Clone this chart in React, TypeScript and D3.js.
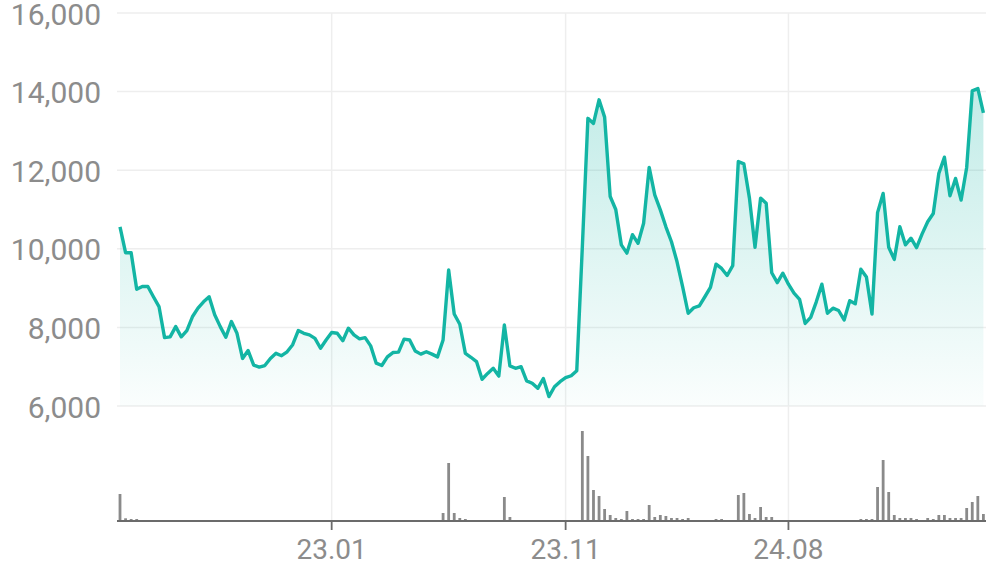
import React from "react";
import * as d3 from "d3";

const prices: number[] = [
  10560, 9900, 9900, 8970, 9040, 9040, 8780, 8530, 7740, 7760,
  8020, 7760, 7920, 8270, 8490, 8650, 8780, 8320, 8020, 7750,
  8150, 7850, 7210, 7410, 7040, 6990, 7030, 7210, 7340, 7280,
  7380, 7560, 7920, 7850, 7810, 7720, 7470, 7680, 7870, 7850,
  7660, 7980, 7810, 7710, 7740, 7530, 7090, 7030, 7250, 7360,
  7370, 7700, 7680, 7400, 7320, 7380, 7320, 7250, 7680, 9460,
  8340, 8080, 7340, 7240, 7130, 6680, 6830, 6960, 6760, 8060,
  7020, 6960, 7000, 6640, 6580, 6450, 6700, 6240, 6490, 6620,
  6720, 6770, 6900, 10050, 13320, 13190, 13790, 13350, 11330, 11000,
  10100, 9890, 10360, 10140, 10650, 12070, 11370, 10990, 10560, 10180,
  9670, 9040, 8360, 8500, 8550, 8780, 9020, 9610, 9500, 9320,
  9570, 12220, 12160, 11290, 10040, 11290, 11160, 9390, 9140, 9380,
  9100, 8870, 8715, 8100, 8257, 8650, 9100, 8360, 8490, 8430,
  8190, 8680, 8600, 9480, 9280, 8340, 10920, 11410, 10040, 9730,
  10560, 10100, 10270, 10030, 10380, 10690, 10900, 11920, 12330, 11350,
  11790, 11240, 12070, 14020, 14080, 13460,
];

const volumes: number[] = [
  27, 2.7, 2, 2, 1, 0, 0, 1, 1, 0,
  0, 0, 0, 0, 0, 0, 0, 0, 0, 0,
  0, 0, 0, 0, 0, 0, 0, 0, 0, 0,
  0, 0, 0, 0, 0, 0, 0, 0, 0, 0,
  0, 0, 0, 0, 0, 0, 0, 0, 0, 0,
  0, 0, 0, 0, 1, 0, 0, 0, 8, 58,
  8, 3, 2, 1, 1, 1, 0, 0, 0, 24,
  4, 1, 1, 1, 0, 0, 0, 1, 0, 0,
  0, 0, 0, 90, 65, 31, 25, 12, 6, 3,
  2, 10, 2, 2, 2, 16, 4, 6, 5, 3,
  3, 2, 3, 1, 1, 1, 1, 2, 2, 1,
  1, 26, 28, 7, 3, 14, 4, 4, 1, 1,
  1, 1, 1, 1, 0, 0, 1, 0, 1, 1,
  1, 1, 1, 2, 2, 2, 34, 61, 29, 6,
  3, 3, 3, 2, 1, 3, 2, 6, 6, 3,
  3, 3, 13, 19, 25, 7,
];

const yTicks: number[] = [6000, 8000, 10000, 12000, 14000, 16000];
const xTickIndex: number[] = [38, 80, 120];
const xTickLabels: string[] = ["23.01", "23.11", "24.08"];

const W = 996;
const H = 567;
const FONT = "Roboto, 'Noto Sans', sans-serif";

export default function App() {
  const n = prices.length;
  const x = d3.scaleLinear().domain([0, n - 1]).range([120, 983.4]);
  const y = d3.scaleLinear().domain([6000, 16000]).range([406, 13]);
  const yv = d3.scaleLinear().domain([0, 100]).range([521, 421]);
  const gridLeft = 117;
  const gridRight = 986;

  const line = d3
    .line<number>()
    .x((_, i) => x(i))
    .y((d) => y(d));
  const area = d3
    .area<number>()
    .x((_, i) => x(i))
    .y0(y(6000))
    .y1((d) => y(d));

  const fmt = d3.format(",");

  return (
    <svg
      width={W}
      height={H}
      style={{ position: "absolute", left: 0, top: 0, background: "#fff" }}
    >
      <defs>
        <linearGradient id="fillGrad" gradientUnits="userSpaceOnUse" x1={0} y1={y(14100)} x2={0} y2={y(6000)}>
          <stop offset="0%" stopColor="#13b5a4" stopOpacity={0.26} />
          <stop offset="100%" stopColor="#13b5a4" stopOpacity={0.02} />
        </linearGradient>
      </defs>

      {yTicks.map((t) => (
        <line
          key={"h" + t}
          x1={gridLeft}
          x2={gridRight}
          y1={y(t)}
          y2={y(t)}
          stroke="#eeeeee"
          strokeWidth={1.5}
        />
      ))}
      {xTickIndex.map((t) => (
        <line
          key={"v" + t}
          x1={x(t)}
          x2={x(t)}
          y1={y(16000)}
          y2={yv(0)}
          stroke="#eeeeee"
          strokeWidth={1.5}
        />
      ))}

      {yTicks.map((t) => (
        <text
          key={"yl" + t}
          x={101}
          y={y(t) + 1}
          textAnchor="end"
          dominantBaseline="central"
          fontFamily={FONT}
          fontSize={30}
          fill="#8c8c8c"
        >
          {fmt(t)}
        </text>
      ))}

      <path d={area(prices) || ""} fill="url(#fillGrad)" />
      <path
        d={line(prices) || ""}
        fill="none"
        stroke="#13b5a4"
        strokeWidth={3.4}
        strokeLinejoin="round"
      />

      {volumes.map((v, i) =>
        v > 0 ? (
          <rect
            key={"b" + i}
            x={x(i) - 1.4}
            width={2.8}
            y={yv(v)}
            height={yv(0) - yv(v)}
            fill="#8a8a8a"
          />
        ) : null
      )}

      <line
        x1={gridLeft}
        x2={gridRight}
        y1={yv(0)}
        y2={yv(0)}
        stroke="#6b6b6b"
        strokeWidth={1.8}
      />
      {xTickIndex.map((t, k) => (
        <g key={"xt" + t}>
          <line
            x1={x(t)}
            x2={x(t)}
            y1={yv(0)}
            y2={yv(0) + 9}
            stroke="#6b6b6b"
            strokeWidth={1.8}
          />
          <text
            x={x(t)}
            y={559}
            textAnchor="middle"
            fontFamily={FONT}
            fontSize={28}
            fill="#8c8c8c"
          >
            {xTickLabels[k]}
          </text>
        </g>
      ))}
    </svg>
  );
}
